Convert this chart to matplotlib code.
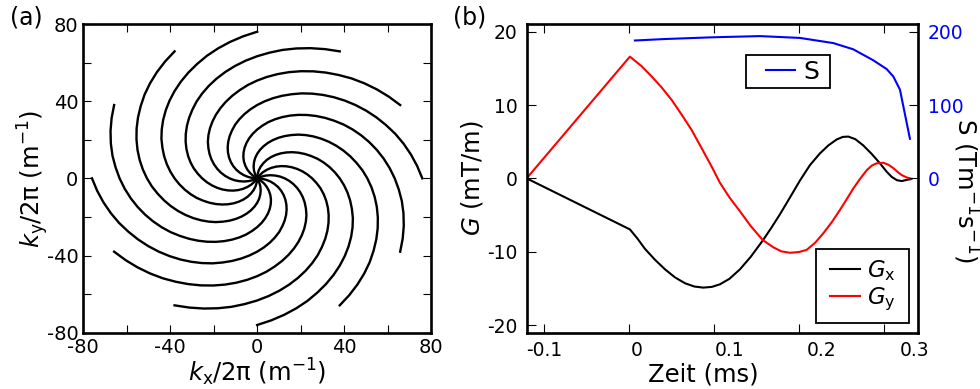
import matplotlib

matplotlib.use("Agg")
import matplotlib.pyplot as plt
import numpy as np
from matplotlib.legend_handler import HandlerLine2D
from matplotlib.ticker import FixedLocator

plt.rcParams["font.family"] = ["DejaVu Sans"]
plt.rcParams["mathtext.fontset"] = "dejavusans"
plt.rcParams["axes.unicode_minus"] = False

# (a) one spiral interleave: inward sweep (deg) and radius (1/m)
arm_sweep = [0, 5, 10, 15, 20, 25, 30, 35, 40, 45, 50, 55, 60, 65, 70, 75, 80, 85,
             90, 95, 100, 105, 110, 115, 120, 125, 130, 135, 140, 145, 150, 155,
             160, 165, 170, 175, 180]
arm_radius = [76, 73.9, 71.8, 69.7, 67.6, 65.4, 63.3, 61.2, 59.1, 57, 54.9, 52.8,
              50.7, 48.6, 46.4, 44.3, 42.2, 40.1, 38, 35.9, 33.8, 31.7, 29.6, 27.4,
              25.3, 23.2, 21.1, 19, 16.9, 14.8, 12.7, 10.6, 8.4, 6.3, 4.2, 2.1, 0]
# angle (deg) at which each of the 12 interleaves ends
arm_end_angles = [0, 30, 60, 90, 120, 150, 180, 210, 240, 270, 300, 330]

# (b) gradient waveforms (ms, mT/m)
gx_t = [-0.1192, -0.0076, 0.0005, 0.0086, 0.0195, 0.0303, 0.0411, 0.0519,
        0.0620, 0.0717, 0.0810, 0.0897, 0.1000, 0.1114, 0.1230, 0.1359,
        0.1450, 0.1546, 0.1650, 0.1762, 0.1870, 0.1978, 0.2070, 0.2159,
        0.2225, 0.2284, 0.2360, 0.2446, 0.2540, 0.2627, 0.2700, 0.2754,
        0.2810, 0.2862, 0.2920, 0.2965]
gx = [0.0, -6.96, -8.2, -9.6, -11.1, -12.4, -13.5, -14.3,
      -14.75, -14.9, -14.8, -14.45, -13.7, -12.4, -10.7, -8.5,
      -6.8, -4.9, -2.7, -0.3, 1.8, 3.4, 4.5, 5.3,
      5.65, 5.7, 5.35, 4.5, 3.3, 2.05, 0.9, 0.2,
      -0.25, -0.37, -0.2, -0.1]

gy_t = [-0.1192, -0.0076, 0.0050, 0.0159, 0.0267, 0.0375, 0.0483, 0.0591,
        0.0700, 0.0808, 0.0897, 0.1000, 0.1114, 0.1230, 0.1359, 0.1474,
        0.1560, 0.1654, 0.1750, 0.1835, 0.1925, 0.2014, 0.2105, 0.2195,
        0.2270, 0.2338, 0.2410, 0.2483, 0.2540, 0.2591, 0.2663, 0.2720,
        0.2771, 0.2820, 0.2862, 0.2910, 0.2965]
gy = [0.0, 16.6, 15.3, 13.9, 12.4, 10.7, 8.7, 6.6,
      4.1, 1.6, -0.6, -2.6, -4.5, -6.5, -8.4, -9.4,
      -9.95, -10.15, -10.05, -9.75, -8.8, -7.5, -6.0, -4.3,
      -2.8, -1.4, -0.1, 1.1, 1.75, 2.05, 2.13, 1.85,
      1.4, 0.85, 0.45, 0.15, -0.05]

# slew rate (T/m/s)
s_t = [-0.0022, 0.0300, 0.0825, 0.1330, 0.1762, 0.2122, 0.2338, 0.2555,
       0.2700, 0.2771, 0.2843, 0.2951]
s_val = [188, 190, 192.4, 194, 191.5, 184.5, 176, 161, 149, 139, 121, 54]

fig = plt.figure(figsize=(9.8, 3.89), dpi=100)

# ---------------- panel (a)
ax_a = fig.add_axes([0.085, 0.1447, 0.3548, 0.7936])
sweep = np.radians(arm_sweep)
radius = np.array(arm_radius)
for end in arm_end_angles:
    ang = np.radians(end) + sweep
    ax_a.plot(radius * np.cos(ang), radius * np.sin(ang), color="black", lw=1.7,
              solid_joinstyle="round")

ax_a.set_xlim(-80, 80)
ax_a.set_ylim(-80, 80)
ax_a.set_xticks([-80, -40, 0, 40, 80])
ax_a.set_yticks([-80, -40, 0, 40, 80])
ax_a.xaxis.set_minor_locator(FixedLocator([-60, -20, 20, 60]))
ax_a.yaxis.set_minor_locator(FixedLocator([-60, -20, 20, 60]))
ax_a.tick_params(which="both", direction="in", top=True, right=True,
                 length=5.8, width=0.8, labelsize=14, pad=3.5)
for sp in ax_a.spines.values():
    sp.set_linewidth(1.9)
ax_a.set_xlabel(r"$k_\mathrm{x}$/2π (m$^{-1}$)", fontsize=17.5, labelpad=0)
ax_a.set_ylabel(r"$k_\mathrm{y}$/2π (m$^{-1}$)", fontsize=17.5,
                ha="center", va="center", rotation_mode="anchor")
ax_a.yaxis.set_label_coords(-0.145, 0.5)
fig.text(0.0102, 0.985, "(a)", fontsize=17, ha="left", va="top")

# ---------------- panel (b)
ax_b = fig.add_axes([0.5374, 0.1447, 0.3996, 0.7936])
ax_b.plot(gx_t, gx, color="black", lw=1.5, label=r"$G_\mathrm{x}$")
ax_b.plot(gy_t, gy, color="red", lw=1.5, label=r"$G_\mathrm{y}$")
ax_b.set_xlim(-0.1192, 0.3041)
ax_b.set_ylim(-21.05, 21.05)
ax_b.set_xticks([-0.1, 0, 0.1, 0.2, 0.3])
ax_b.set_xticklabels(["-0.1", "0", "0.1", "0.2", "0.3"])
ax_b.set_yticks([-20, -10, 0, 10, 20])
ax_b.xaxis.set_minor_locator(FixedLocator([-0.1002, -0.0083, 0.0836, 0.1755, 0.2674]))
ax_b.tick_params(axis="x", which="major", length=0, labelsize=13.5, pad=6)
ax_b.tick_params(axis="x", which="minor", direction="in", top=True, bottom=True,
                 length=6.5, width=0.8)
ax_b.tick_params(axis="y", direction="in", right=True, length=6.5, width=0.8,
                 labelsize=13.5, pad=6.5)
for sp in ax_b.spines.values():
    sp.set_linewidth(1.9)
ax_b.set_xlabel("Zeit (ms)", fontsize=17.5, labelpad=0)
ax_b.xaxis.set_label_coords(0.45, -0.095)
ax_b.xaxis.label.set_va("top")
ax_b.set_ylabel(r"$G$ (mT/m)", fontsize=17.5,
                ha="center", va="center", rotation_mode="anchor")
ax_b.yaxis.set_label_coords(-0.139, 0.5)

leg_g = ax_b.legend(loc="lower left", bbox_to_anchor=(0.738, 0.0324, 0.239, 0.3),
                    mode="expand", borderaxespad=0, fontsize=16.5, fancybox=False,
                    edgecolor="black", framealpha=1, handlelength=1.5,
                    handletextpad=0.3, borderpad=0.42, labelspacing=0.1,
                    handler_map={matplotlib.lines.Line2D: HandlerLine2D(xpad=0.19)})
leg_g.get_frame().set_linewidth(1.3)

ax_s = ax_b.twinx()
ax_s.plot(s_t, s_val, color="blue", lw=1.5, label="S")
ax_s.set_ylim(-210.5, 210.5)
ax_s.set_yticks([0, 100, 200])
ax_s.tick_params(axis="y", direction="in", length=6.5, width=0.8,
                 labelsize=13.5, labelcolor="blue", pad=7)
ax_s.set_ylabel(r"S (Tm$^{-1}$s$^{-1}$)", fontsize=17.5, rotation=270,
                ha="center", va="center", rotation_mode="anchor")
ax_s.yaxis.set_label_coords(1.1218, 0.462)
leg_s = ax_s.legend(loc="upper left", bbox_to_anchor=(0.56, 0.7861, 0.2145, 0.1135),
                    mode="expand", borderaxespad=0, fontsize=18, fancybox=False,
                    edgecolor="black", framealpha=1, handlelength=1.76,
                    handletextpad=0.36, borderpad=0.19,
                    handler_map={matplotlib.lines.Line2D: HandlerLine2D(xpad=0.6)})
leg_s.get_frame().set_linewidth(1.3)
fig.text(0.462, 0.985, "(b)", fontsize=17, ha="left", va="top")

fig.savefig("out.png", dpi=100)
